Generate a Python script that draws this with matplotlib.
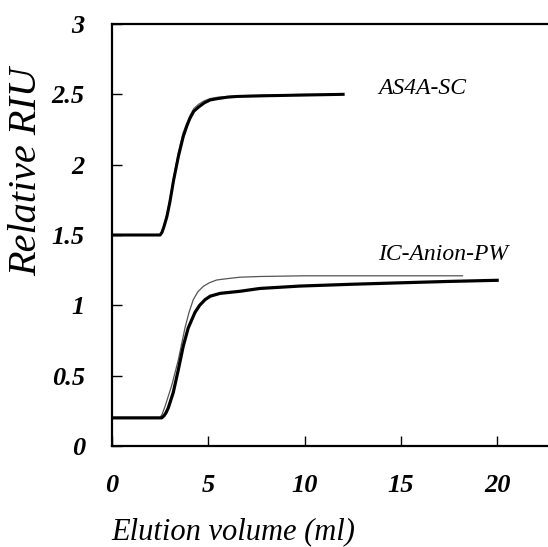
import matplotlib
matplotlib.use("Agg")
import matplotlib.pyplot as plt

# Upper curves (AS4A-SC)
as4a_x_thick = [0, 2.5, 2.6, 2.7, 2.85, 3.0, 3.2, 3.45, 3.7, 3.9, 4.05, 4.25, 4.5, 4.8, 5.1, 5.5, 6.0, 6.5, 8, 10, 12]
as4a_y_thick = [1.5, 1.5, 1.52, 1.56, 1.63, 1.73, 1.89, 2.06, 2.2, 2.28, 2.33, 2.38, 2.41, 2.44, 2.46, 2.47, 2.48, 2.485, 2.49, 2.495, 2.5]
as4a_x_thin = [0, 2.5, 2.6, 2.7, 2.85, 3.0, 3.2, 3.45, 3.7, 3.9, 4.05, 4.25, 4.5, 4.8, 5.1, 5.5, 6.0, 6.5, 8, 10, 12]
as4a_y_thin = [1.5, 1.5, 1.52, 1.57, 1.65, 1.75, 1.91, 2.09, 2.23, 2.3, 2.35, 2.4, 2.43, 2.455, 2.47, 2.48, 2.485, 2.49, 2.495, 2.5, 2.5]

# Lower curves (IC-Anion-PW)
ic_x_thick = [0, 2.58, 2.7, 2.8, 2.92, 3.18, 3.44, 3.70, 3.96, 4.31, 4.55, 4.83, 5.1, 5.61, 6.65, 7.68, 9.76, 12.5, 14.95, 17.5, 20.0]
ic_y_thick = [0.2, 0.2, 0.215, 0.235, 0.27, 0.38, 0.54, 0.71, 0.84, 0.95, 1.0, 1.04, 1.065, 1.085, 1.10, 1.12, 1.137, 1.15, 1.16, 1.17, 1.178]
ic_x_thin = [0, 2.49, 2.6, 2.75, 3.1, 3.44, 3.79, 4.0, 4.22, 4.45, 4.74, 5.05, 5.43, 6.0, 6.65, 7.68, 10, 14, 18.2]
ic_y_thin = [0.2, 0.2, 0.225, 0.28, 0.43, 0.61, 0.84, 0.95, 1.04, 1.095, 1.135, 1.16, 1.18, 1.19, 1.20, 1.205, 1.21, 1.21, 1.21]

x_ticks = [0, 5, 10, 15, 20]
y_ticks = [0, 0.5, 1, 1.5, 2, 2.5, 3]
y_tick_labels = ["0", "0.5", "1", "1.5", "2", "2.5", "3"]

serif = ["Liberation Serif", "DejaVu Serif"]

fig = plt.figure(figsize=(5.48, 5.47), dpi=100)
ax = fig.add_axes([112 / 548, 1 - 446 / 547, 1 - 112 / 548, (446 - 24) / 547])

ax.plot(as4a_x_thin, as4a_y_thin, color="#666666", lw=0.9)
ax.plot(as4a_x_thick, as4a_y_thick, color="black", lw=2.2)
ax.plot(ic_x_thin, ic_y_thin, color="#555555", lw=0.9)
ax.plot(ic_x_thick, ic_y_thick, color="black", lw=2.3)

ax.set_xlim(0, 22.64)
ax.set_ylim(0, 3)
ax.set_xticks(x_ticks)
ax.set_yticks(y_ticks)
ax.set_yticklabels(y_tick_labels)
ax.tick_params(direction="in", length=7, width=1.0, colors="black")
ax.tick_params(axis="y", pad=19.5)
ax.tick_params(axis="x", pad=20)
for lab in ax.get_xticklabels() + ax.get_yticklabels():
    lab.set_fontfamily(serif)
    lab.set_fontstyle("italic")
    lab.set_fontweight("bold")
    lab.set_fontsize(19)

ax.spines["right"].set_visible(False)
for s in ["left", "bottom", "top"]:
    ax.spines[s].set_linewidth(1.6)

ax.text(13.81, 2.54, "AS4A-SC", family=serif, style="italic", fontsize=17,
        ha="left", va="center")
ax.text(13.81, 1.36, "IC-Anion-PW", family=serif, style="italic", fontsize=17,
        ha="left", va="center")

fig.text(233 / 548, 1 - 539 / 547, "Elution volume (ml)", family=serif, style="italic",
         fontsize=22, ha="center", va="baseline")
fig.text(27 / 548, 1 - 172 / 547, "Relative RIU", family=serif, style="italic",
         fontsize=29, ha="center", va="center", rotation=90)

fig.savefig("out.png", dpi=100)
